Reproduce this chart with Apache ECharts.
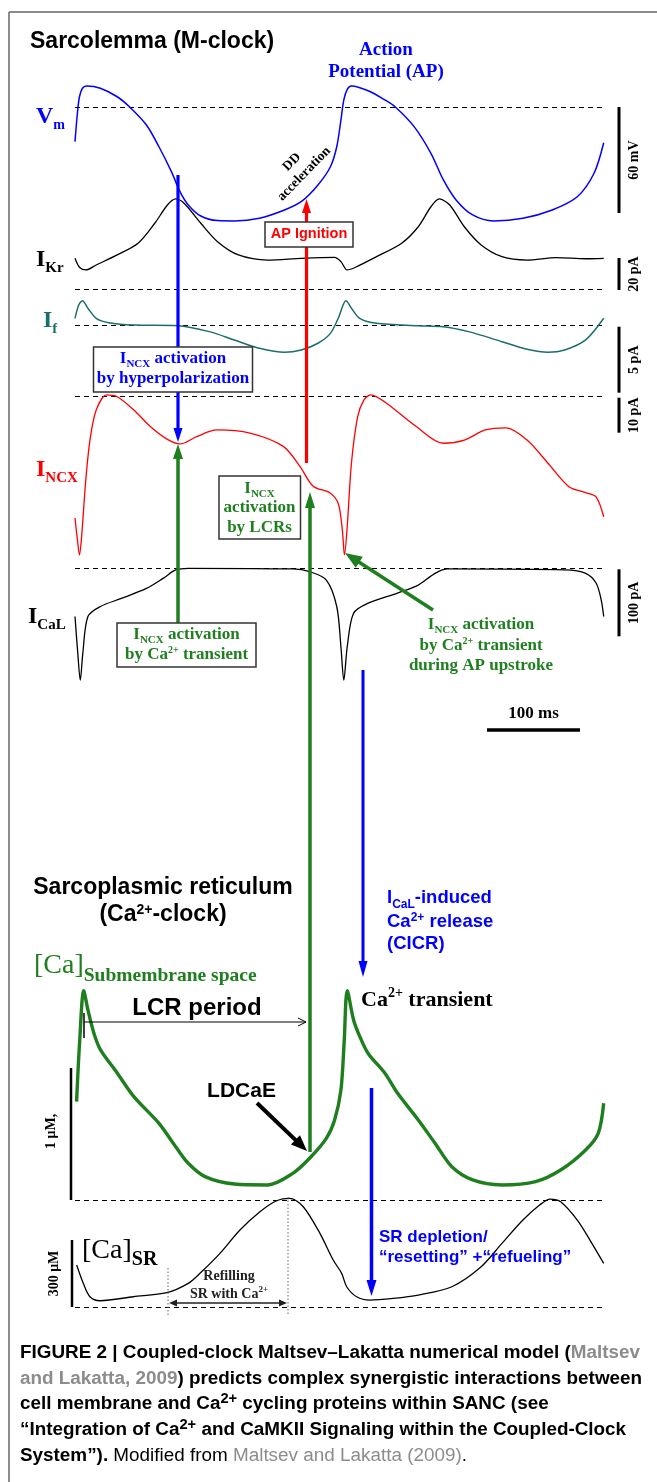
<!DOCTYPE html>
<html><head><meta charset="utf-8">
<script src="https://cdn.jsdelivr.net/npm/echarts@6/dist/echarts.min.js"></script>
<style>html,body{margin:0;padding:0;background:#fff}#c{width:657px;height:1482px}</style>
</head><body><div id="c"></div>
<script>
// ---------------- DATA (time in ms, values in physical units) ----------------
const vmData = [[0,-19.6],[2.6,-3.4],[4.8,5.8],[8,10.6],[12.5,11.9],[27.3,10.6],[45.4,5.8],[58.8,0],[76.8,-10.2],[90.3,-22.5],[103.8,-36.7],[112.9,-47.9],[121.8,-55.4],[135.3,-61.7],[153.3,-64.3],[171.3,-64.5],[198.3,-63],[225.3,-58.3],[243.3,-53.6],[261.3,-44.1],[274.7,-33.8],[281.5,-22.5],[286,-7.4],[289.1,4],[292.8,10],[297.3,11.9],[315.3,9.2],[333.3,4],[344.5,0],[364.7,-11.1],[382.8,-26.2],[396.2,-41.3],[409.8,-52.6],[427.7,-61.1],[450.2,-64.5],[481.7,-63],[513.2,-58.3],[540.2,-50.8],[558.2,-37.5],[568.6,-20.2]];
const ikrData = [[0,19.2],[4.8,13.6],[11.6,11.9],[22.8,15],[45.4,21.3],[67.8,28.6],[85.8,41.1],[99.4,52.5],[108.3,56.3],[117.3,53.6],[135.3,41.1],[153.3,29.6],[175.8,21.3],[207.3,18.1],[243.3,19.2],[279.2,19.8],[286,17.1],[292.8,11.9],[301.7,13.6],[324.3,20.2],[351.3,28.6],[369.2,38.9],[382.8,51.4],[391.7,56.3],[403,52.5],[418.7,38.9],[436.8,27.5],[459.2,20.2],[486.2,18.1],[517.7,19.6],[549.2,18.9],[568.6,19.2]];
const ifData = [[0,0.56],[4,1.57],[8,1.89],[13.9,1.32],[22.8,0.56],[36.3,0.23],[63.3,0.05],[110.5,0],[144.3,-0.45],[171.3,-1.08],[198.3,-1.71],[225.3,-2.02],[243.3,-1.84],[261.3,-1.33],[274.7,-0.58],[283.8,0.68],[288.3,1.57],[291.4,1.89],[297.3,1.32],[306.2,0.56],[324.3,0.18],[369.2,0],[396.2,-0.08],[423.2,-0.45],[459.2,-1.21],[486.2,-1.79],[508.7,-2.02],[526.8,-1.84],[549.2,-1.08],[568.6,0.56]];
const incxData = [[0,-34.7],[2.6,-40.9],[4.8,-45.2],[7.1,-40],[11.6,-23.8],[16.1,-12.4],[22.8,-3.8],[34.1,0.5],[45.4,0],[63.3,-3.8],[81.3,-8.6],[99.4,-12.2],[112.9,-13.5],[130.9,-11.4],[152.4,-9.5],[188.2,-10.4],[224,-14.2],[241.9,-19.9],[256.2,-25.6],[274.2,-27.5],[283.1,-30.5],[287.5,-38],[289.8,-45.2],[292.8,-37],[297.3,-19],[304,-5.7],[310.8,-0.9],[318,0.5],[333.2,-1.5],[367.4,-8.6],[396,-13.3],[418.7,-12.4],[441.3,-9.5],[463.8,-8.9],[486.2,-12.4],[508.7,-19],[531.2,-25.7],[549.2,-27.4],[560.4,-28.6],[568.6,-34.3]];
const icalData = [[0,-72],[3,-127],[5.7,-167],[8.4,-127],[13.9,-72],[27.3,-57],[49.8,-45],[76.8,-30],[94.8,-15],[108.3,-2.5],[121.8,0],[234.3,-1],[252.3,-5],[270.3,-17.5],[281.5,-57],[286,-117],[289.1,-167],[292.8,-117],[299.6,-67],[315.3,-52],[346.8,-37],[369.2,-25],[387.2,-7.5],[400.8,-1],[526.8,-2.5],[549.2,-7.5],[560.4,-22],[565.9,-47],[568.6,-72]];
const caSubData = [[1.7,0.745],[5,1.2],[9.4,1.586],[13.9,1.44],[20.5,1.26],[27.3,1.14],[45.4,0.962],[63.3,0.783],[90.3,0.581],[108.3,0.404],[121.8,0.278],[139.8,0.177],[171.3,0.121],[207.3,0.114],[234.3,0.202],[252.3,0.316],[270.3,0.467],[279.2,0.606],[286,0.833],[289.5,1.2],[292.8,1.586],[299.6,1.364],[306.2,1.24],[315.3,1.11],[333.3,0.96],[346.8,0.81],[369.2,0.606],[387.2,0.43],[405.3,0.252],[427.7,0.152],[459.2,0.114],[495.3,0.139],[522.3,0.227],[549.2,0.379],[562.7,0.505],[568.6,0.733]];
const caSrData = [[1.8,386.7],[8.9,304.8],[16.1,244.8],[26.9,226.9],[62.7,244.8],[98.6,262.7],[121.8,304.8],[134.4,349.6],[155.9,439.1],[177.4,543.5],[198.9,625.4],[216.9,674.7],[231.2,685.4],[245.5,647.8],[263.4,528.7],[277.7,409.1],[286.8,349.6],[292.2,289.6],[302.9,244.8],[317.2,230],[342.3,237.6],[369.2,252.4],[405.3,289.6],[436.8,379.1],[459.2,483.9],[481.7,588.3],[499.7,655.4],[511,682.3],[522.3,670.2],[540.2,588.3],[553.8,498.7],[568.6,394.4]];
const srRefLines = [674.7, 195.5];
const scaleBars = [ // [panel, amount, label]
  ['vm', 60, '60 mV'], ['ikr', 20, '20 pA'], ['if', 5, '5 pA'], ['incx', 10, '10 pA'], ['ical', 100, '100 pA']
];
const timeBarMs = 100;

// ---------------- LAYOUT ----------------
const X0 = 75, XW = 530, TMAX = 570;
const BLUE = '#0000ff', RED = '#ff0000', GREEN = '#1f7f1f', TEAL = '#1b6e6a';
const panels = [
  {id:'vm',   data:vmData,    color:BLUE,   lw:1.5, zeroY:107,    ppu:1.767,  top:78,   bottom:232,  refs:[0]},
  {id:'ikr',  data:ikrData,   color:'#000', lw:1.3, zeroY:289,    ppu:1.6,    top:192,  bottom:295,  refs:[0]},
  {id:'if',   data:ifData,    color:TEAL,   lw:1.5, zeroY:325.7,  ppu:13.2,   top:292,  bottom:362,  refs:[0]},
  {id:'incx', data:incxData,  color:RED,    lw:1.3, zeroY:396.7,  ppu:3.5,    top:388,  bottom:562,  refs:[0]},
  {id:'ical', data:icalData,  color:'#000', lw:1.3, zeroY:568.3,  ppu:0.67,   top:560,  bottom:690,  refs:[0]},
  {id:'casub',data:caSubData, color:GREEN,  lw:3.4, zeroY:1200,   ppu:132,    top:980,  bottom:1196, refs:[]},
  {id:'casr', data:caSrData,  color:'#000', lw:1.3, zeroY:1351.4, ppu:0.2233, top:1190, bottom:1312, refs:srRefLines}
];

const SERIF = '"Liberation Serif","Times New Roman",serif';
const SANS = '"Liberation Sans",Arial,sans-serif';
const mctx = document.createElement('canvas').getContext('2d');
function fontStr(s){ const fam = s.fam==='sans'?SANS:SERIF; return `${s.w||'bold'} ${s.f}px ${fam}`; }
function runs(x, yc, align, segs, def){
  def = def || {};
  segs = segs.map(s => Object.assign({}, def, typeof s === 'string' ? {t:s} : s));
  const F0 = segs[0].f;
  const sx = def.sx || 1;
  const yb = yc + 0.34*F0;
  const widths = segs.map(s => { mctx.font = fontStr(s); return mctx.measureText(s.t).width*sx; });
  const total = widths.reduce((a,b)=>a+b,0);
  let cx = align==='center' ? x-total/2 : (align==='right' ? x-total : x);
  const out = [];
  segs.forEach((s,i) => {
    out.push({type:'text', silent:true, z:30, x:cx, y:yb-0.34*s.f+(s.dy||0), scaleX:sx,
      style:{text:s.t, font:fontStr(s), fill:s.c||'#000', align:'left', verticalAlign:'middle'}});
    cx += widths[i];
  });
  return out;
}
function rtext(x, y, t, f, fam, color, rot, lh){
  return {type:'text', silent:true, z:30, x, y, rotation:rot,
    style:{text:t, font:fontStr({f, fam, w:'bold'}), fill:color||'#000', align:'center', verticalAlign:'middle', lineHeight:lh||f}};
}
function line(x1,y1,x2,y2,color,lw,extra){
  return {type:'line', silent:true, z:20, shape:{x1,y1,x2,y2}, style:Object.assign({stroke:color, lineWidth:lw}, extra||{})};
}
function arrow(x1,y1,x2,y2,color,lw,hl,hw){
  const dx=x2-x1, dy=y2-y1, L=Math.hypot(dx,dy), ux=dx/L, uy=dy/L;
  const bx=x2-ux*hl, by=y2-uy*hl, px=-uy, py=ux;
  return [line(x1,y1,bx+ux*1,by+uy*1,color,lw),
    {type:'polygon', silent:true, z:20, shape:{points:[[x2,y2],[bx+px*hw/2,by+py*hw/2],[bx-px*hw/2,by-py*hw/2]]}, style:{fill:color}}];
}
function box(x,y,w,h){
  return {type:'rect', silent:true, z:25, shape:{x,y,width:w,height:h}, style:{fill:'#fff', stroke:'#333', lineWidth:1.5}};
}

// ---------------- OPTION ----------------
const grid=[], xAxis=[], yAxis=[], series=[];
panels.forEach((p,i) => {
  grid.push({left:X0, width:XW, top:p.top, height:p.bottom-p.top, containLabel:false});
  xAxis.push({type:'value', gridIndex:i, min:0, max:TMAX, show:false});
  yAxis.push({type:'value', gridIndex:i, min:(p.zeroY-p.bottom)/p.ppu, max:(p.zeroY-p.top)/p.ppu, show:false});
  series.push({type:'line', xAxisIndex:i, yAxisIndex:i, data:p.data, showSymbol:false, smooth:0.3,
    silent:true, lineStyle:{color:p.color, width:p.lw}, z:5,
    markLine: p.refs.length ? {silent:true, symbol:['none','none'], label:{show:false}, animation:false,
      lineStyle:{type:[5,4], color:'#000', width:1.2}, data:p.refs.map(v=>({yAxis:v}))} : undefined});
});

const G = [];
// border
G.push(line(9,12,9,1482,'#666',1.5), line(9,12,657,12,'#666',1.5));
// right scale bars
const BX = 619;
scaleBars.forEach(([pid, amt, lab]) => {
  const p = panels.find(q=>q.id===pid);
  let yTop, yBot;
  if (pid==='vm') { yTop = p.zeroY; yBot = p.zeroY + amt*p.ppu; }
  else if (pid==='ikr') { yBot = p.zeroY + 1; yTop = yBot - amt*p.ppu; }
  else { yTop = p.zeroY + 1; yBot = yTop + amt*p.ppu; }
  G.push(line(BX, yTop, BX, yBot, '#000', 3));
  G.push(rtext(BX+15, (yTop+yBot)/2, lab, 14, 'serif', '#000', Math.PI/2));
});
// time bar
const tbLen = timeBarMs * XW / TMAX;
G.push(line(487,730,487+tbLen,730,'#000',3.5));
G.push(...runs(487+tbLen/2, 714, 'center', [{t:'100 ms', f:17}]));
// left scale bars (Ca)
const cs = panels.find(q=>q.id==='casub'), sr = panels.find(q=>q.id==='casr');
G.push(line(71, cs.zeroY - 1*cs.ppu, 71, cs.zeroY, '#000', 2.5));
G.push(rtext(51, cs.zeroY - 0.52*cs.ppu, '1 μM,', 14, 'serif', '#000', Math.PI/2));
G.push(line(72, 1307, 72, 1307 - 300*sr.ppu, '#000', 2.5));
G.push(rtext(54, 1307 - 150*sr.ppu, '300 μM', 14, 'serif', '#000', Math.PI/2));

// arrows
G.push(...arrow(178,175,178,442,BLUE,3.2,14,9));
G.push(...arrow(306.5,463,306.5,199,RED,3.2,14,9));
G.push(...arrow(178,623,178,444,GREEN,3.5,15,10));
G.push(...arrow(310,1152,310,492,GREEN,3.5,16,10));
G.push(...arrow(433,610,345,553,GREEN,3.5,17,13));
G.push(...arrow(363,670,363,977,BLUE,3,16,9));
G.push(...arrow(257,1103,307,1151,'#000',4,16,13));
G.push(...arrow(371.5,1088,371.5,1296,BLUE,3.5,16,10));
// LCR period arrow
G.push(line(84,1022,306,1022,'#000',1), line(306,1022,298,1018,'#000',1), line(306,1022,298,1026,'#000',1), line(84,1013,84,1038,'#000',1.5));
// refilling arrow + dotted guides
G.push(line(168,1268,168,1316,'#666',1,{lineDash:[1.5,2]}), line(288,1197,288,1316,'#666',1,{lineDash:[1.5,2]}));
G.push(...arrow(228,1303,169,1303,'#222',1.5,8,7), ...arrow(228,1303,287,1303,'#222',1.5,8,7));

// boxes
G.push(box(93.5,347,159,45), box(265,222,88,25), box(219,476,81.5,63), box(117,623,139,44));

// titles & labels
G.push(...runs(30, 42, 'left', [{t:'Sarcolemma (M-clock)', f:23, fam:'sans'}]));
G.push(...runs(386, 50, 'center', [{t:'Action', f:19, c:BLUE}]));
G.push(...runs(386, 72, 'center', [{t:'Potential (AP)', f:19, c:BLUE}]));
G.push(rtext(298, 168, 'DD\nacceleration', 13.5, 'serif', '#000', 0.8, 17));
G.push(...runs(36, 117, 'left', [{t:'V', f:24, c:BLUE}, {t:'m', f:14, c:BLUE, dy:5}]));
G.push(...runs(36, 260, 'left', [{t:'I', f:24}, {t:'Kr', f:15, dy:5}]));
G.push(...runs(43, 321, 'left', [{t:'I', f:24, c:TEAL}, {t:'f', f:15, c:TEAL, dy:5}]));
G.push(...runs(36, 470, 'left', [{t:'I', f:24, c:RED}, {t:'NCX', f:15, c:RED, dy:5}]));
G.push(...runs(28, 617, 'left', [{t:'I', f:24}, {t:'CaL', f:15, dy:5}]));
// box texts
G.push(...runs(173, 359, 'center', [{t:'I',f:17},{t:'NCX',f:11,dy:3},{t:' activation',f:17}], {c:BLUE}));
G.push(...runs(173, 379, 'center', [{t:'by hyperpolarization',f:17}], {c:BLUE}));
G.push(...runs(309, 234, 'center', [{t:'AP Ignition',f:14.5,fam:'sans',c:RED}]));
G.push(...runs(259.5, 489, 'center', [{t:'I',f:17},{t:'NCX',f:11,dy:3}], {c:GREEN}));
G.push(...runs(259.5, 508, 'center', [{t:'activation',f:17}], {c:GREEN}));
G.push(...runs(259.5, 528, 'center', [{t:'by LCRs',f:17}], {c:GREEN}));
G.push(...runs(186.5, 635, 'center', [{t:'I',f:17},{t:'NCX',f:11,dy:3},{t:' activation',f:17}], {c:GREEN}));
G.push(...runs(186.5, 655, 'center', [{t:'by Ca',f:17},{t:'2+',f:10,dy:-7},{t:' transient',f:17}], {c:GREEN}));
G.push(...runs(481, 625, 'center', [{t:'I',f:17},{t:'NCX',f:11,dy:3},{t:' activation',f:17}], {c:GREEN}));
G.push(...runs(481, 646, 'center', [{t:'by Ca',f:17},{t:'2+',f:10,dy:-7},{t:' transient',f:17}], {c:GREEN}));
G.push(...runs(481, 666, 'center', [{t:'during AP upstroke',f:17}], {c:GREEN}));
// SR section
G.push(...runs(163, 888, 'center', [{t:'Sarcoplasmic reticulum',f:23,fam:'sans'}]));
G.push(...runs(163, 915, 'center', [{t:'(Ca',f:23},{t:'2+',f:14,dy:-8},{t:'-clock)',f:23}], {fam:'sans'}));
G.push(...runs(387, 898, 'left', [{t:'I',f:18.5},{t:'CaL',f:12,dy:4},{t:'-induced',f:18.5}], {fam:'sans', c:BLUE}));
G.push(...runs(387, 922, 'left', [{t:'Ca',f:18.5},{t:'2+',f:12,dy:-7},{t:' release',f:18.5}], {fam:'sans', c:BLUE}));
G.push(...runs(387, 944, 'left', [{t:'(CICR)',f:18.5}], {fam:'sans', c:BLUE}));
G.push(...runs(34, 966, 'left', [{t:'[Ca]',f:28,w:'normal'},{t:'Submembrane space',f:19.5,dy:7}], {c:GREEN}));
G.push(...runs(197, 1008, 'center', [{t:'LCR period',f:24,fam:'sans'}]));
G.push(...runs(361, 1000, 'left', [{t:'Ca',f:22},{t:'2+',f:14,dy:-9},{t:' transient',f:22}]));
G.push(...runs(241.5, 1091, 'center', [{t:'LDCaE',f:21,fam:'sans'}]));
G.push(...runs(379, 1237, 'left', [{t:'SR depletion/',f:17}], {fam:'sans', c:BLUE}));
G.push(...runs(379, 1257, 'left', [{t:'“resetting” +“refueling”',f:17}], {fam:'sans', c:BLUE}));
G.push(...runs(82, 1251, 'left', [{t:'[Ca]',f:28,w:'normal'},{t:'SR',f:20,dy:6}]));
G.push(...runs(229, 1276, 'center', [{t:'Refilling',f:14,c:'#222'}]));
G.push(...runs(229, 1294, 'center', [{t:'SR with Ca',f:14,c:'#222'},{t:'2+',f:9,dy:-6,c:'#222'}]));

// caption
const GREY = '#8c8c8c';
const capLines = [
  [{t:'FIGURE 2 | Coupled-clock Maltsev–Lakatta numerical model ('},{t:'Maltsev',c:GREY}],
  [{t:'and Lakatta, 2009',c:GREY},{t:') predicts complex synergistic interactions between'}],
  [{t:'cell membrane and Ca'},{t:'2+',sup:1},{t:' cycling proteins within SANC (see'}],
  [{t:'“Integration of Ca'},{t:'2+',sup:1},{t:' and CaMKII Signaling within the Coupled-Clock'}],
  [{t:'System”).'},{t:' Modified from ',w:'normal'},{t:'Maltsev and Lakatta (2009)',w:'normal',c:GREY},{t:'.',w:'normal'}]
];
const capF = 18;
let tw = 0; capLines[0].forEach(s => { mctx.font = fontStr({f:capF,fam:'sans',w:'bold'}); tw += mctx.measureText(s.t).width; });
const capSx = 620/tw;
const capY = [1353, 1379, 1404, 1430, 1456];
capLines.forEach((segs,i) => {
  G.push(...runs(20, capY[i], 'left', segs.map(s => Object.assign({f: s.sup ? Math.round(capF*0.8) : capF, fam:'sans', w:'bold', c:'#000', dy: s.sup ? -capF*0.35 : 0}, s)), {sx:capSx}));
});

const chart = echarts.init(document.getElementById('c'), null, {renderer:'canvas'});
chart.setOption({animation:false, backgroundColor:'#fff', grid, xAxis, yAxis, series, graphic:{elements:G}});
</script></body></html>
